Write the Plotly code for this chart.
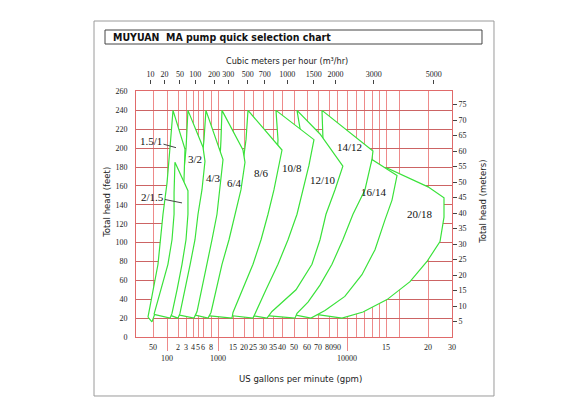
import numpy as np
import plotly.graph_objects as go

# the gpm axis of this chart is a hand-drawn nomogram scale:
# tick value -> distance from the left edge of the grid
SCALE_GPM = [25, 50, 100, 200, 300, 400, 500, 600, 800, 1000, 1500, 2000, 2500, 3000, 3500,
             4000, 5000, 6000, 7000, 8000, 9000, 10000, 15000, 20000, 30000]
SCALE_POS = [3, 17, 31, 42, 50, 57, 62, 67, 75, 82, 97, 108, 117, 127, 137,
             146, 158, 171, 182, 193, 201, 211, 250, 292, 316]

GRID_GPM = [50, 100, 200, 300, 400, 500, 600, 800, 1000, 1500, 2000, 2500, 3000, 3500, 4000,
            5000, 6000, 7000, 8000, 9000, 10000, 11000, 12000, 13000, 14000, 15000, 16500,
            20000, 30000]
GRID_LABELS = ['50', '', '2', '3', '4', '5', '6', '8', '', '15', '20', '25', '30', '35', '40',
               '50', '60', '70', '80', '90', '', '', '', '', '', '15', '',
               '20', '30']
DECADE_GPM = [100, 1000, 10000]
DECADE_LABELS = ['100', '1000', '10000']

M3H_TICKS = [10, 20, 50, 100, 200, 300, 500, 700, 1000, 1500, 2000, 3000, 5000]
GPM_PER_M3H = 4.4029

FEET_TICKS = list(range(0, 261, 20))
METER_TICKS = list(range(5, 76, 5))
FT_PER_M = 3.2808

# pump ranges: outline from bottom-left, up to max head, along the top, down the right side
P1_5_1_GPM = [39, 50, 64, 82, 100, 121, 146, 285, 271, 221, 137, 71, 47.5]
P1_5_1_FT = [21, 50, 77, 130, 163, 201, 240, 199, 166, 129, 77, 40, 16]

P2_1_5_GPM = [52.5, 74, 106, 137, 156, 156, 165, 325, 325, 300, 245, 188, 137, 121]
P2_1_5_FT = [24, 50, 77, 103, 130, 153, 185, 155, 130, 103, 77, 50, 25, 20]

P3_2_GPM = [91, 121, 176, 221, 258, 258, 300, 325, 600, 644, 578, 500, 437, 356, 285, 221, 200]
P3_2_FT = [25, 50, 77, 103, 130, 167, 199, 240, 201, 186, 156, 130, 103, 77, 50, 25, 20]

P4_3_GPM = [176, 258, 325, 400, 457, 518, 578, 622, 667, 1145, 1055, 968, 826, 693, 578, 479, 418]
P4_3_FT = [24, 50, 77, 103, 130, 156, 188, 209, 240, 188, 156, 130, 103, 77, 50, 27, 20]

P6_4_GPM = [385, 518, 622, 745, 880, 968, 1055, 1084, 1114, 1948, 2050, 1848, 1580, 1346, 1114,
            937, 800, 720]
P6_4_FT = [24, 50, 77, 103, 130, 156, 188, 209, 240, 198, 185, 156, 130, 103, 77, 50, 26, 20]

P8_6_GPM = [644, 853, 1027, 1241, 1460, 1706, 1898, 2102, 2208, 4000, 3826, 3552, 3240, 2895,
            2500, 1898, 1500, 1460]
P8_6_FT = [23, 50, 77, 103, 130, 156, 177, 209, 240, 198, 182, 156, 130, 103, 77, 50, 26, 20]

P10_8_GPM = [1310, 1752, 2321, 2739, 3093, 3395, 3714, 3769, 3659, 6615, 6170, 5674, 5215, 4472,
             3769, 3141, 2592, 2500]
P10_8_FT = [23, 50, 77, 103, 130, 156, 188, 209, 240, 209, 182, 156, 130, 103, 77, 50, 25, 20]

P12_10_GPM = [2321, 3000, 3605, 4229, 5000, 5440, 5917, 5440, 5215, 7171, 9573, 8742, 7712, 7171,
              6433, 5142, 3447, 3190]
P12_10_FT = [23, 50, 77, 103, 130, 156, 182, 221, 240, 215, 181, 156, 130, 103, 77, 50, 27, 20]

P14_12_GPM = [3046, 3290, 4905, 6170, 6902, 7437, 8359, 9095, 7437, 7347, 13100, 12960, 12057,
              10640, 9573, 8359, 7171, 6085, 5215, 5071]
P14_12_FT = [23, 27, 50, 77, 103, 130, 156, 181, 209, 240, 197, 188, 156, 130, 103, 77, 55, 37,
             25, 20]

P16_14_GPM = [4815, 5836, 6902, 8000, 9320, 10317, 11680, 12960, 16174, 15629, 14840, 13380,
              11680, 9776, 7619, 6345]
P16_14_FT = [24, 37.5, 55.5, 77, 103, 130, 156, 188, 171, 145, 124, 92.5, 66, 43, 28, 20]

P20_18_GPM = [6806, 7437, 9573, 11447, 13100, 14550, 15206, 15103, 20000, 26207, 26207, 24495,
              19863, 17680, 15103, 11808, 9487]
P20_18_FT = [24, 28, 43, 66, 92.5, 124, 166.5, 179, 159, 147.5, 127, 101, 80, 58.6, 39.6, 26.5, 20]

# drawn from the right so the smaller pumps sit on top
DRAW_ORDER = [
    (P20_18_GPM, P20_18_FT), (P16_14_GPM, P16_14_FT), (P14_12_GPM, P14_12_FT),
    (P12_10_GPM, P12_10_FT), (P10_8_GPM, P10_8_FT), (P8_6_GPM, P8_6_FT),
    (P6_4_GPM, P6_4_FT), (P4_3_GPM, P4_3_FT), (P3_2_GPM, P3_2_FT),
    (P1_5_1_GPM, P1_5_1_FT), (P2_1_5_GPM, P2_1_5_FT),
]

LABEL_NAMES = ['3/2', '4/3', '6/4', '8/6', '10/8', '12/10', '14/12', '16/14', '20/18']
LABEL_GPM = [437, 853, 1540, 2895, 4815, 7437, 10210, 13240, 18930]
LABEL_FT = [188.6, 168.6, 163.3, 174, 179, 166.5, 201, 153.6, 130.5]

GREEN = '#3ae23a'
VGRID = '#ee8a8a'
HGRID = '#cc6464'
BORDER = '#e06a6a'
INK = '#222222'
SERIF = 'Liberation Serif, Times New Roman, serif'
GOTHIC = 'DejaVu Sans Condensed, DejaVu Sans, sans-serif'


def gpm_pos(gpm):
    return np.interp(np.log10(np.asarray(gpm, dtype=float)), np.log10(SCALE_GPM), SCALE_POS)


fig = go.Figure()

for gpm, ft in DRAW_ORDER:
    fig.add_trace(go.Scatter(
        x=gpm_pos(gpm + [gpm[0]]), y=ft + [ft[0]],
        mode='lines', fill='toself', fillcolor='white',
        line=dict(color=GREEN, width=1.2),
        hoverinfo='skip', showlegend=False,
    ))

# invisible traces so the extra axes get drawn
for xa, ya in [('x2', 'y'), ('x3', 'y'), ('x', 'y2')]:
    fig.add_trace(go.Scatter(x=[1], y=[1], xaxis=xa, yaxis=ya, mode='markers',
                             marker=dict(opacity=0), hoverinfo='skip', showlegend=False))

tick_font = dict(family=SERIF, size=8, color=INK)
x_range = [0, 316]
y_top = 0.9704

# page body has an 8px margin, so the margins are shifted by that amount
fig.update_layout(
    width=585, height=413,
    margin=dict(l=128, r=141, t=76, b=84),
    paper_bgcolor='white', plot_bgcolor='white',
    showlegend=False,
    xaxis=dict(range=x_range, tickmode='array', tickvals=gpm_pos(GRID_GPM), ticktext=GRID_LABELS,
               showgrid=True, gridcolor=VGRID, gridwidth=1, ticks='', tickfont=tick_font,
               tickangle=0, showline=True, linecolor=BORDER, linewidth=1, mirror=True,
               zeroline=False, ticklabelstandoff=2),
    xaxis2=dict(range=x_range, overlaying='x', anchor='free', position=1, side='top',
                tickmode='array', tickvals=gpm_pos(np.array(M3H_TICKS) * GPM_PER_M3H),
                ticktext=[str(v) for v in M3H_TICKS], ticks='outside', ticklen=4, tickangle=0,
                tickcolor='#444444', tickfont=tick_font, showgrid=False, showline=False,
                zeroline=False, ticklabelstandoff=0),
    xaxis3=dict(range=x_range, overlaying='x', anchor='free', position=0, side='bottom',
                tickmode='array', tickvals=gpm_pos(DECADE_GPM), ticktext=DECADE_LABELS,
                ticks='outside', ticklen=13, tickcolor=VGRID, tickfont=tick_font, tickangle=0,
                showgrid=False, showline=False, zeroline=False),
    yaxis=dict(range=[0, 260], domain=[0, y_top], tickmode='array', tickvals=FEET_TICKS,
               showgrid=True, gridcolor=HGRID, gridwidth=1, ticks='', tickfont=tick_font,
               showline=True, linecolor=BORDER, linewidth=1, mirror=True, zeroline=False,
               ticklabelstandoff=6),
    yaxis2=dict(range=[0, 260 / FT_PER_M], overlaying='y', side='right', tickmode='array',
                tickvals=METER_TICKS, ticks='outside', ticklen=4, tickcolor='#444444',
                tickfont=tick_font, showgrid=False, showline=False, zeroline=False),
)

annotations = [
    dict(text='<b>MUYUAN\u00a0 MA pump quick selection chart</b>', x=-0.079, y=1.186,
         xanchor='left', font=dict(family=GOTHIC, size=10.5, color='#111111')),
    dict(text='Cubic meters per hour (m³/hr)', x=0.478, y=1.092, xanchor='center',
         font=dict(family=GOTHIC, size=9, color=INK)),
    dict(text='US gallons per minute (gpm)', x=0.522, y=-0.166, xanchor='center',
         font=dict(family=GOTHIC, size=9.5, color=INK)),
    dict(text='Total head (feet)', x=-0.092, y=0.534, textangle=-90, xanchor='center',
         font=dict(family=GOTHIC, size=9.5, color=INK)),
    dict(text='Total head (meters)', x=1.098, y=0.534, textangle=-90, xanchor='center',
         font=dict(family=GOTHIC, size=9.5, color=INK)),
]
for a in annotations:
    a.update(xref='paper', yref='paper', yanchor='middle', showarrow=False)

label_font = dict(family=SERIF, size=11, color='#111111')
for name, g, f in zip(LABEL_NAMES, LABEL_GPM, LABEL_FT):
    annotations.append(dict(text=name, x=float(gpm_pos(g)), y=f, xref='x', yref='y',
                            xanchor='center', yanchor='middle', showarrow=False, font=label_font))

# the two small pumps are labelled with leader lines
annotations.append(dict(text='1.5/1', x=float(gpm_pos(176)), y=200.5, xref='x', yref='y',
                        showarrow=True, arrowhead=0, arrowwidth=1, arrowcolor='#444444',
                        ax=-25, ay=-7, font=label_font))
annotations.append(dict(text='2/1.5', x=float(gpm_pos(245)), y=142, xref='x', yref='y',
                        showarrow=True, arrowhead=0, arrowwidth=1, arrowcolor='#444444',
                        ax=-30, ay=-6, font=label_font))
fig.update_layout(annotations=annotations)

fig.update_layout(shapes=[
    dict(type='rect', xref='paper', yref='paper', x0=-0.1329, x1=1.1329, y0=-0.2332, y1=1.249,
         line=dict(color='#9a9a9a', width=1)),
    dict(type='rect', xref='paper', yref='paper', x0=-0.0981, x1=1.0949, y0=1.1581, y1=1.2134,
         line=dict(color='#444444', width=1)),
])

fig.write_html("out.html")
